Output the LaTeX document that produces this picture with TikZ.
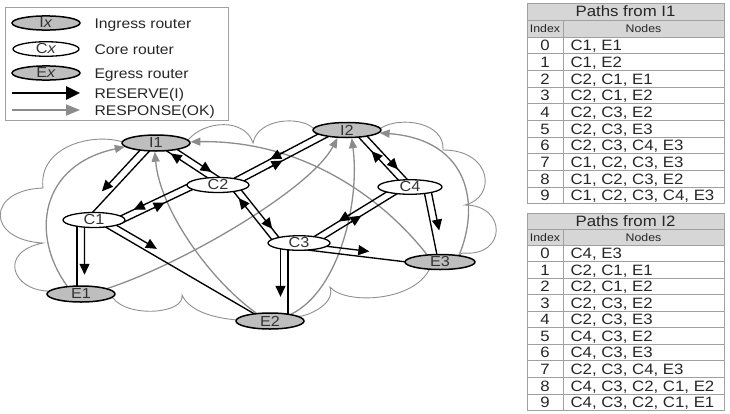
\documentclass[tikz,border=0pt]{standalone}
\usepackage{fontspec}
\setmainfont{Liberation Sans}[FakeStretch=1.12]
\usetikzlibrary{calc,arrows.meta,shapes.geometric}
\definecolor{nodegray}{HTML}{BEBEBE}
\definecolor{respgray}{HTML}{8C8C8C}
\definecolor{cloudgray}{HTML}{8F8F8F}
\definecolor{hdrgray}{HTML}{D6D6D6}
\definecolor{tlinegray}{HTML}{A0A0A0}
\definecolor{txtgray}{HTML}{262626}
\pgfdeclarelayer{bgg}
\pgfdeclarelayer{bg}
\pgfsetlayers{bgg,bg,main}
% name, P, Q, distance, angle, -angle
\newcommand\mkoff[6]{%
  \coordinate (#1a) at ($(#2)!#4!#5:(#3)$);
  \coordinate (#1b) at ($(#3)!#4!#6:(#2)$);}
\begin{document}
\begin{tikzpicture}[x=1pt,y=-1pt,
  rt/.style={ellipse,draw=black,inner sep=0pt,text=black!80,font=\fontsize{14.5}{15}\selectfont},
  ingr/.style={rt,fill=nodegray,line width=1.5pt,minimum width=68pt,minimum height=16pt},
  core/.style={rt,fill=white,line width=1.3pt,minimum width=62pt,minimum height=15pt},
  lnk/.style={line width=1.35pt,draw=black},
  hd/.style={-{Triangle[length=11pt,width=10pt]}},
  resp/.style={draw=respgray,line width=1.3pt,-{Triangle[length=10pt,width=8pt]}},
  cloudl/.style={draw=cloudgray,line width=0.9pt},
  lgtxt/.style={anchor=base west,text=black!85,font=\fontsize{14}{14}\selectfont},
  tline/.style={draw=tlinegray,line width=0.8pt},
  ttl/.style={anchor=base,text=txtgray,font=\fontsize{15}{15}\selectfont},
  thd/.style={anchor=base,text=txtgray,font=\fontsize{11}{11}\selectfont},
  tnum/.style={anchor=base,text=txtgray,font=\fontsize{15}{15}\selectfont},
  ttxt/.style={anchor=base west,text=txtgray,font=\fontsize{15}{15}\selectfont}]
\useasboundingbox (0,0) rectangle (730,413);

% ---------- routers ----------
\node[ingr] (I1) at (156,143) {I1};
\node[core] (C1) at (94,220) {C1};
\node[core] (C2) at (218,185) {C2};
\node[ingr] (E1) at (81,294) {E1};
\node[ingr] (E2) at (270,321) {E2};
\node[core,minimum height=14pt] (C3) at (299,243) {C3};
\node[ingr,minimum width=70pt,minimum height=15pt] (E3) at (440,262) {E3};
\node[core,minimum width=64pt,minimum height=14pt] (C4) at (410,187) {C4};
\node[ingr,minimum height=15pt] (I2) at (347,130) {I2};

% ---------- cloud and responses ----------
\begin{pgfonlayer}{bgg}
\draw[cloudl] (188,140) .. controls (205,120) and (245,118) .. (253,143)
  .. controls (258,118) and (300,116) .. (313,128)
  -- (381,128)
  .. controls (400,116) and (445,122) .. (443,150)
  .. controls (492,150) and (497,197) .. (465,205)
  .. controls (507,205) and (507,257) .. (463,253)
  -- (430,268)
  .. controls (415,302) and (345,305) .. (330,287)
  .. controls (335,300) and (318,312) .. (302,316)
  -- (237,320)
  .. controls (215,318) and (190,312) .. (182,295)
  .. controls (185,314) and (128,318) .. (113,298)
  -- (48,291)
  .. controls (12,290) and (-2,252) .. (43,243)
  .. controls (-14,240) and (-14,190) .. (43,188)
  .. controls (38,148) and (90,132) .. (123,142)
  -- cycle;
\draw[resp] (E1.150) .. controls (30,235) and (40,165) .. (I1.187);
\draw[resp] (E1.12) .. controls (180,265) and (310,190) .. (I2.220);
\draw[resp] (E2.150) .. controls (210,280) and (160,210) .. (I1.262);
\draw[resp] (E2.18) .. controls (340,290) and (360,200) .. (I2.300);
\draw[resp] (E3.150) .. controls (380,195) and (300,140) .. (I1.2);
\draw[resp] (E3.20) .. controls (480,205) and (470,140) .. (I2.355);
\end{pgfonlayer}

% ---------- links and reserve arrows ----------
\begin{pgfonlayer}{bg}
% I1 -> C1
\coordinate (L1p) at ($(I1)+(0,1)$); \coordinate (L1q) at ($(C1)+(-8.5,0)$);
\draw[lnk] (L1p) -- (L1q);
\mkoff{L1}{L1p}{L1q}{7.5pt}{-90}{90}
\draw[lnk,hd] (L1a) -- ($(L1a)!0.69!(L1b)$);
% I1 <-> C2
\coordinate (L2p) at ($(I1)+(5,0)$); \coordinate (L2q) at ($(C2)+(7,0)$);
\mkoff{L2u}{L2p}{L2q}{3.5pt}{90}{-90}
\mkoff{L2d}{L2p}{L2q}{3.5pt}{-90}{90}
\draw[lnk] (L2ua) -- (L2ub); \draw[lnk] (L2da) -- (L2db);
\draw[lnk,hd] ($(L2ua)!0.62!(L2ub)$) -- ($(L2ua)!0.76!(L2ub)$);
\draw[lnk,hd] ($(L2da)!0.32!(L2db)$) -- ($(L2da)!0.18!(L2db)$);
% C1 <-> C2
\coordinate (L3p) at ($(C1)+(24,1)$); \coordinate (L3q) at ($(C2)+(-22,-1)$);
\mkoff{L3u}{L3p}{L3q}{3.5pt}{90}{-90}
\mkoff{L3d}{L3p}{L3q}{3.5pt}{-90}{90}
\draw[lnk] (L3ua) -- (L3ub); \draw[lnk] (L3da) -- (L3db);
\draw[lnk,hd] ($(L3ua)!0.36!(L3ub)$) -- ($(L3ua)!0.22!(L3ub)$);
\draw[lnk,hd] ($(L3da)!0.44!(L3db)$) -- ($(L3da)!0.58!(L3db)$);
% C1 -> E1
\coordinate (L4p) at ($(C1)+(-17,0)$); \coordinate (L4q) at ($(E1)+(-4,0)$);
\draw[lnk] (L4p) -- (L4q);
\mkoff{L4}{L4p}{L4q}{7.5pt}{90}{-90}
\draw[lnk,hd] (L4a) -- ($(L4a)!0.74!(L4b)$);
% C1 -> E2
\coordinate (L5p) at ($(C1)+(3,2)$); \coordinate (L5q) at ($(E2)+(-12,-5)$);
\draw[lnk] (L5p) -- (L5q);
\mkoff{L5}{L5p}{L5q}{7pt}{90}{-90}
\draw[lnk,hd] (L5a) -- ($(L5a)!0.35!(L5b)$);
% C2 <-> I2
\coordinate (L6p) at ($(C2)+(5,3)$); \coordinate (L6q) at ($(I2)+(-8,-3)$);
\mkoff{L6u}{L6p}{L6q}{3.5pt}{90}{-90}
\mkoff{L6d}{L6p}{L6q}{3.5pt}{-90}{90}
\draw[lnk] (L6ua) -- (L6ub); \draw[lnk] (L6da) -- (L6db);
\draw[lnk,hd] ($(L6ua)!0.54!(L6ub)$) -- ($(L6ua)!0.42!(L6ub)$);
\draw[lnk,hd] ($(L6da)!0.38!(L6db)$) -- ($(L6da)!0.50!(L6db)$);
% C2 <-> C3
\coordinate (L7p) at ($(C2)+(14,-1)$); \coordinate (L7q) at ($(C3)+(-20,0)$);
\mkoff{L7u}{L7p}{L7q}{3.5pt}{90}{-90}
\mkoff{L7d}{L7p}{L7q}{3.5pt}{-90}{90}
\draw[lnk] (L7ua) -- (L7ub); \draw[lnk] (L7da) -- (L7db);
\draw[lnk,hd] ($(L7ua)!0.66!(L7ub)$) -- ($(L7ua)!0.80!(L7ub)$);
\draw[lnk,hd] ($(L7da)!0.34!(L7db)$) -- ($(L7da)!0.20!(L7db)$);
% C3 <-> C4
\coordinate (L8p) at ($(C3)+(10.5,0.5)$); \coordinate (L8q) at ($(C4)+(-9.5,0.5)$);
\mkoff{L8u}{L8p}{L8q}{3.5pt}{90}{-90}
\mkoff{L8d}{L8p}{L8q}{3.5pt}{-90}{90}
\draw[lnk] (L8ua) -- (L8ub); \draw[lnk] (L8da) -- (L8db);
\draw[lnk,hd] ($(L8ua)!0.46!(L8ub)$) -- ($(L8ua)!0.34!(L8ub)$);
\draw[lnk,hd] ($(L8da)!0.43!(L8db)$) -- ($(L8da)!0.55!(L8db)$);
% I2 <-> C4
\coordinate (L9p) at ($(I2)+(11.5,2)$); \coordinate (L9q) at ($(C4)+(0.5,1)$);
\mkoff{L9u}{L9p}{L9q}{3.5pt}{90}{-90}
\mkoff{L9d}{L9p}{L9q}{3.5pt}{-90}{90}
\draw[lnk] (L9ua) -- (L9ub); \draw[lnk] (L9da) -- (L9db);
\draw[lnk,hd] ($(L9ua)!0.57!(L9ub)$) -- ($(L9ua)!0.71!(L9ub)$);
\draw[lnk,hd] ($(L9da)!0.44!(L9db)$) -- ($(L9da)!0.30!(L9db)$);
% C3 -> E2
\coordinate (L10p) at ($(C3)+(-11,0)$); \coordinate (L10q) at ($(E2)+(18,0)$);
\draw[lnk] (L10p) -- (L10q);
\mkoff{L10}{L10p}{L10q}{7.5pt}{-90}{90}
\draw[lnk,hd] (L10a) -- ($(L10a)!0.69!(L10b)$);
% C3 -> E3
\coordinate (L11p) at ($(C3)+(0,6)$); \coordinate (L11q) at ($(E3)+(-25,1)$);
\draw[lnk] (L11p) -- (L11q);
\mkoff{L11}{L11p}{L11q}{6pt}{90}{-90}
\draw[lnk,hd] (L11a) -- ($(L11a)!0.60!(L11b)$);
% C4 -> E3
\coordinate (L12p) at ($(C4)+(13,-1)$); \coordinate (L12q) at ($(E3)+(-2,-2)$);
\draw[lnk] (L12p) -- (L12q);
\mkoff{L12}{L12p}{L12q}{7pt}{90}{-90}
\draw[lnk,hd] (L12a) -- ($(L12a)!0.62!(L12b)$);
\end{pgfonlayer}

% ---------- legend ----------
\draw[draw=tlinegray,line width=0.9pt] (5,7) rectangle (228,120);
\node[ingr,minimum height=14pt] (lgI) at (46,23) {I\textit{x}};
\node[core,minimum width=66pt,minimum height=14pt] (lgC) at (46,49) {C\textit{x}};
\node[ingr,minimum height=14pt] (lgE) at (46,73) {E\textit{x}};
\node[lgtxt] (lgIt) at (91,28) {Ingress router};
\node[lgtxt] (lgCt) at (91,54) {Core router};
\node[lgtxt] (lgEt) at (91,78) {Egress router};
\coordinate (lgRa) at (12,93); \coordinate (lgRb) at (80,93);
\draw[line width=2.8pt,-{Triangle[length=14pt,width=13pt]}] (lgRa) -- (lgRb);
\node[lgtxt] (lgRt) at (91,98) {RESERVE(I)};
\coordinate (lgSa) at (12,110); \coordinate (lgSb) at (80,110);
\draw[draw=respgray,line width=1.8pt,-{Triangle[length=14pt,width=11pt]},respgray] (lgSa) -- (lgSb);
\node[lgtxt] (lgSt) at (91,115) {RESPONSE(OK)};

% ---------- table: paths from I1 ----------
\fill[hdrgray] (527,3) rectangle (724,37);
\draw[tline] (527,3) rectangle (724,203.7);
\draw[tline] (527,20) -- (724,20);
\draw[tline] (563,20) -- (563,203.7);
\foreach \k in {0,...,9} \draw[tline] (527,{37+16.67*\k}) -- (724,{37+16.67*\k});
\node[ttl] (taT) at (625.5,16.5) {Paths from I1};
\node[thd] (taIx) at (545,32.3) {Index};
\node[thd] (taNd) at (643.5,32.3) {Nodes};
\foreach \i/\t in {0/{C1, E1},1/{C1, E2},2/{C2, C1, E1},3/{C2, C1, E2},4/{C2, C3, E2},5/{C2, C3, E3},6/{C2, C3, C4, E3},7/{C1, C2, C3, E3},8/{C1, C2, C3, E2},9/{C1, C2, C3, C4, E3}}{
  \node[tnum] (tan\i) at (545,{45.33+16.67*\i+5.4}) {\i};
  \node[ttxt] (tat\i) at (567,{45.33+16.67*\i+5.4}) {\t};
}

% ---------- table: paths from I2 ----------
\fill[hdrgray] (527,213) rectangle (724,245);
\draw[tline] (527,213) rectangle (724,410.5);
\draw[tline] (527,229) -- (724,229);
\draw[tline] (563,229) -- (563,410.5);
\foreach \k in {0,...,9} \draw[tline] (527,{245+16.55*\k}) -- (724,{245+16.55*\k});
\node[ttl] (tbT) at (625.5,226) {Paths from I2};
\node[thd] (tbIx) at (545,241) {Index};
\node[thd] (tbNd) at (643.5,241) {Nodes};
\foreach \i/\t in {0/{C4, E3},1/{C2, C1, E1},2/{C2, C1, E2},3/{C2, C3, E2},4/{C2, C3, E3},5/{C4, C3, E2},6/{C4, C3, E3},7/{C2, C3, C4, E3},8/{C4, C3, C2, C1, E2},9/{C4, C3, C2, C1, E1}}{
  \node[tnum] (tbn\i) at (545,{253.27+16.55*\i+5.4}) {\i};
  \node[ttxt] (tbt\i) at (567,{253.27+16.55*\i+5.4}) {\t};
}
\end{tikzpicture}
\end{document}
